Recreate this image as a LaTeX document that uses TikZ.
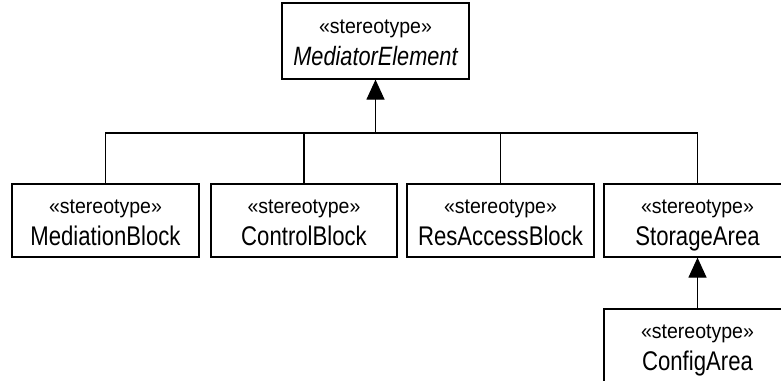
\documentclass[tikz,border=0pt]{standalone}
\usepackage{fontspec}
\setmainfont{Liberation Sans}
\newfontfamily\namefont[FakeStretch=0.82]{Liberation Sans}
\newfontfamily\stereofont[FakeStretch=0.93]{Liberation Sans}
\usetikzlibrary{arrows.meta}
\tikzset{
  umlbox/.style={draw=black, line width=1.2pt, fill=white, minimum width=187pt, minimum height=73pt, inner sep=0pt},
  stereo/.style={anchor=base, inner sep=0pt, font=\stereofont\fontsize{21}{24}\selectfont},
  cname/.style={anchor=base, inner sep=0pt, font=\namefont\fontsize{27}{30}\selectfont},
  conn/.style={draw=black, line width=1.2pt},
  gen/.style={conn, -{Triangle[width=18pt,length=20pt]}},
}
\begin{document}
\begin{tikzpicture}[x=1pt,y=-1pt]
\useasboundingbox (0,0) rectangle (781,380);
\clip (0,0) rectangle (781,380);
% boxes
\node[umlbox, minimum height=76pt] (top) at (375.5,41) {};
\node[umlbox] (med) at (105.5,220.5) {};
\node[umlbox, minimum width=186pt] (ctl) at (304,220.5) {};
\node[umlbox] (res) at (500.5,220.5) {};
\node[umlbox] (sto) at (697.5,220.5) {};
\node[umlbox] (cfg) at (697.5,345.5) {};
% texts
\node[stereo] (topS) at (375.5,33) {«stereotype»};
\node[cname, font=\namefont\fontsize{26.5}{30}\selectfont\itshape] (topN) at (375.5,65) {MediatorElement};
\node[stereo] (medS) at (105.5,213) {«stereotype»};
\node[cname] (medN) at (105.5,245) {MediationBlock};
\node[stereo] (ctlS) at (304,213) {«stereotype»};
\node[cname] (ctlN) at (304,245) {ControlBlock};
\node[stereo] (resS) at (500.5,213) {«stereotype»};
\node[cname] (resN) at (500.5,245) {ResAccessBlock};
\node[stereo] (stoS) at (697.5,213) {«stereotype»};
\node[cname] (stoN) at (697.5,245) {StorageArea};
\node[stereo] (cfgS) at (697.5,338) {«stereotype»};
\node[cname] (cfgN) at (697.5,370) {ConfigArea};
% connectors
\coordinate (j) at (375.5,133);
\draw[gen] (j) -- (top.south);
\draw[conn] (med.north) -- (med.north |- j) -- (sto.north |- j) -- (sto.north);
\draw[conn] (ctl.north) -- (ctl.north |- j);
\draw[conn] (res.north) -- (res.north |- j);
\draw[gen] (cfg.north) -- (sto.south);
\end{tikzpicture}
\end{document}
